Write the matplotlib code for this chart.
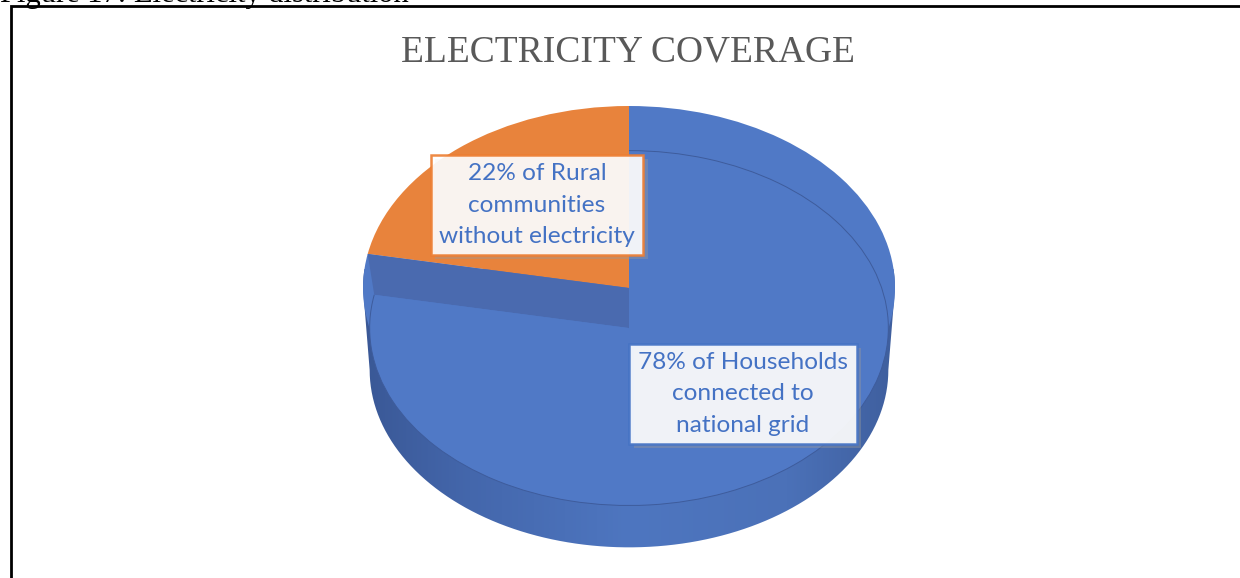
import numpy as np
import matplotlib.pyplot as plt
import matplotlib.patheffects as pe
from matplotlib.patches import Rectangle, Arc, Polygon
from matplotlib.colors import LinearSegmentedColormap

# data
values = [78, 22]
label_tpl = ['{}% of Households\nconnected to\nnational grid',
             '{}% of Rural\ncommunities\nwithout electricity']
title = 'ELECTRICITY COVERAGE'
caption = 'Figure 17: Electricity distribution'

blue = '#5079C6'
orange = '#E8833C'
band = '#4A6AAF'
text_blue = '#4472C4'

W, H = 1240, 578
fig = plt.figure(figsize=(12.4, 5.78), dpi=100)

# axes that holds the squashed pie (1 unit = 266 px across, 182 px down)
ux, uy = 266, 182
cx, cy = 629, 288
y_top, y_bot = 1.03, -1.5
ax = fig.add_axes([(cx - ux) / W, 1 - (cy - y_bot * uy) / H,
                   2 * ux / W, (y_top - y_bot) * uy / H])

d_mid, d_bot, r_in = 0.22, 0.45, 0.975

# side wall: gradient clipped to the hull of top and bottom outlines
t1 = np.linspace(0, np.pi, 100)
t2 = np.linspace(np.pi, 2 * np.pi, 100)
hull = np.vstack([np.c_[np.cos(t1), np.sin(t1)],
                  np.c_[r_in * np.cos(t2), r_in * np.sin(t2) - d_bot]])
side = Polygon(hull, closed=True, fc='none', ec='none')
ax.add_patch(side)
cmap = LinearSegmentedColormap.from_list(
    'side', [(0, '#3A5896'), (0.2, '#4467AC'), (0.5, '#4E76C0'),
             (0.8, '#4B71B8'), (1, '#3F5F9E')])
grad = np.linspace(0, 1, 256)[None, :]
im = ax.imshow(grad, cmap=cmap, extent=(-1, 1, -1.5, 0.1), aspect='auto',
               zorder=1, interpolation='bicubic')
im.set_clip_path(side)

# top level pie
ax.pie(values, colors=[blue, orange], startangle=90, counterclock=False,
       radius=1, center=(0, 0), wedgeprops=dict(linewidth=0, zorder=2))

# boundary angle between the slices
theta = 90 - 360 * values[0] / sum(values)
c, s = np.cos(np.radians(theta)), np.sin(np.radians(theta))
ax.add_patch(Polygon([(0, 0), (c, s), (r_in * c, r_in * s - d_mid), (0, -d_mid)],
                     closed=True, fc=band, ec='none', zorder=3))

# lower face of the big slice
ax.pie(values, colors=[blue, 'none'], startangle=90, counterclock=False,
       radius=r_in, center=(0, -d_mid), wedgeprops=dict(linewidth=0, zorder=4))
ax.add_patch(Arc((0, -d_mid), 2 * r_in, 2 * r_in, theta1=theta % 360, theta2=450,
                 color='#3E5C9C', lw=0.7, zorder=5))

ax.set_aspect('auto')
ax.set_xlim(-1, 1)
ax.set_ylim(y_bot, y_top)
ax.axis('off')

# data labels
font = ['Lato', 'DejaVu Sans']
lab_pos = [(743, 394), (537, 205)]
lab_edge = [text_blue, '#ED7D31']
for v, tpl, (lx, ly), ec in zip(values, label_tpl, lab_pos, lab_edge):
    t = fig.text(lx / W, 1 - ly / H, tpl.format(v), ha='center', va='center',
                 fontsize=17.6, family=font, color=text_blue, linespacing=1.6,
                 zorder=10,
                 bbox=dict(boxstyle='square,pad=0.35', fc='white', alpha=0.9,
                           ec=ec, lw=1.8))
    t.get_bbox_patch().set_path_effects(
        [pe.SimplePatchShadow(offset=(3, -3), shadow_rgbFace='#999999', alpha=0.4),
         pe.Normal()])

fig.text(628 / W, 1 - 62 / H, title, ha='center', va='baseline',
         fontsize=27, family='Liberation Serif', color='#595959')

# clipped caption above the frame
fig.text(0.0, 1 - 2 / H, caption, ha='left', va='baseline',
         fontsize=22, family='Liberation Serif', color='black')

fig.add_artist(Rectangle((11 / W, -0.1), 2, 1 - 6 / H + 0.1,
                         transform=fig.transFigure, fill=False,
                         ec='black', lw=2))

fig.savefig('out.png', dpi=100)
